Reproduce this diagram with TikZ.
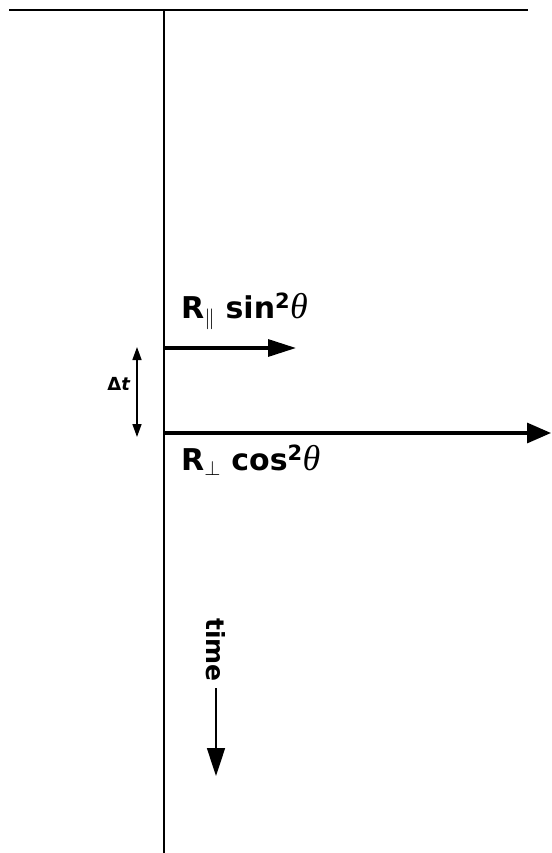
\documentclass[tikz,border=0pt]{standalone}
\usepackage{fontspec}
\setmainfont{DejaVu Sans}
\newfontfamily\thfont{Liberation Serif}
\usetikzlibrary{arrows.meta}
\newcommand{\bigth}{{\thfont\mdseries\itshape\fontsize{36}{36}\selectfont θ}}
\tikzset{
  lbl/.style={font=\bfseries\fontsize{30}{34}\selectfont, inner sep=0pt, anchor=base west},
  axis/.style={line width=2pt},
  vec/.style={line width=3.2pt, -{Triangle[length=28pt,width=17pt]}},
  small/.style={line width=1.6pt, {Triangle[length=13pt,width=9pt]}-{Triangle[length=13pt,width=9pt]}}
}
\begin{document}
\begin{tikzpicture}[x=1pt,y=-1pt]
\useasboundingbox (0,0) rectangle (551,853);
\coordinate (tl) at (9,10);
\coordinate (tr) at (528,10);
\coordinate (vt) at (164,10);
\coordinate (vb) at (164,853);
\draw[axis] (tl) -- (tr);
\draw[axis] (vt) -- (vb);
% parallel arrow
\coordinate (p0) at (164,348);
\coordinate (p1) at (296,348);
\draw[vec] (p0) -- (p1);
\node[lbl] (lp) at (181,318) {R$_{\|}$ sin\textsuperscript{2}\bigth};
% perpendicular arrow
\coordinate (q0) at (164,433);
\coordinate (q1) at (551,433);
\draw[line width=3.2pt, -{Triangle[length=24pt,width=20pt]}] (q0) -- (q1);
\node[lbl] (lq) at (181,470) {R$_{\perp}$ cos\textsuperscript{2}\bigth};
% delta t
\coordinate (d0) at (137,347);
\coordinate (d1) at (137,437);
\draw[small] (d0) -- (d1);
\node[font=\bfseries\fontsize{18}{22}\selectfont, inner sep=0pt] (dt) at (119,384) {Δ\textit{t}};
% time
\node[font=\bfseries\fontsize{25}{30}\selectfont, inner sep=0pt, rotate=-90] (tm) at (216,650) {time};
\coordinate (t0) at (216,688);
\coordinate (t1) at (216,776);
\draw[line width=1.6pt, -{Triangle[length=28pt,width=18pt]}] (t0) -- (t1);
\end{tikzpicture}
\end{document}
